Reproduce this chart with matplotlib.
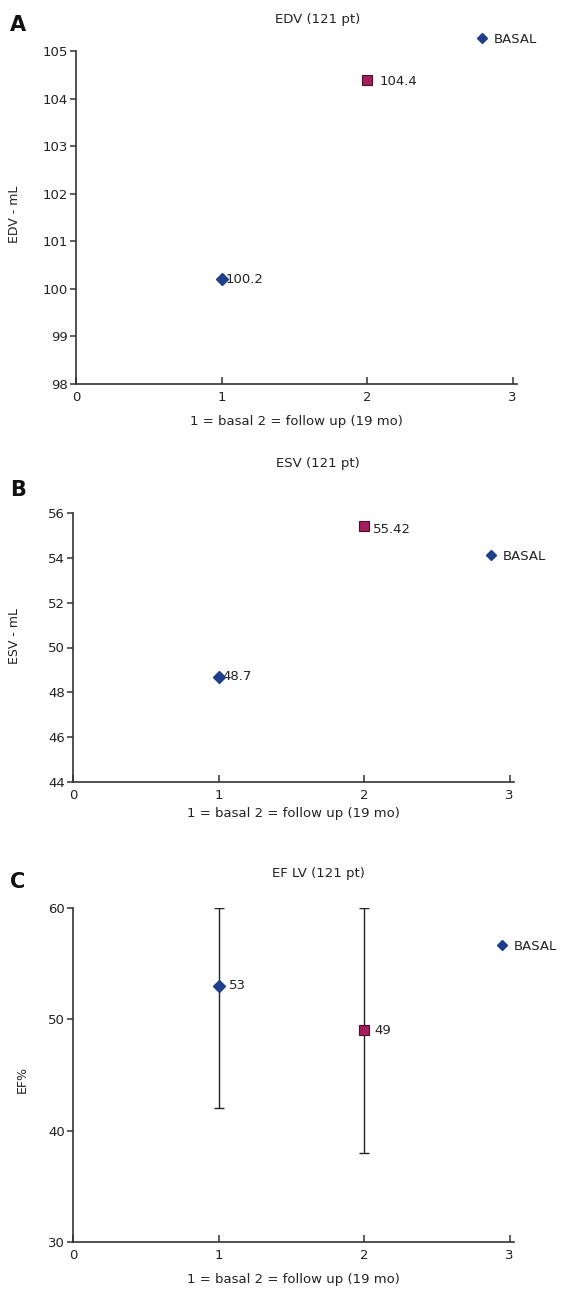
import matplotlib
matplotlib.use("Agg")
import matplotlib.pyplot as plt
from matplotlib.lines import Line2D

plt.rcParams['font.family'] = ['DejaVu Sans']

# ---- data ----
x_groups = [1, 2]
edv_values = [100.2, 104.4]
esv_values = [48.7, 55.42]
ef_values = [53, 49]
ef_err_low = [11, 11]
ef_err_high = [7, 11]
edv_labels = ["100.2", "104.4"]
esv_labels = ["48.7", "55.42"]
ef_labels = ["53", "49"]
titles = ["EDV (121 pt)", "ESV (121 pt)", "EF LV (121 pt)"]
ylabels = ["EDV - mL", "ESV - mL", "EF%"]
xlabel = "1 = basal 2 = follow up (19 mo)"
panel_letters = ["A", "B", "C"]
edv_yticks = [98, 99, 100, 101, 102, 103, 104, 105]
esv_yticks = [44, 46, 48, 50, 52, 54, 56]
ef_yticks = [30, 40, 50, 60]
x_ticks = [0, 1, 2, 3]
legend_label = "BASAL"

BLUE = "#1f3f8a"
PINK = "#a51d5a"
PINK_EDGE = "#4a0f28"
TXT = "#222222"

W, H = 563, 1291
fig = plt.figure(figsize=(W / 100, H / 100), dpi=100)


def px_axes(left, top, right, bottom):
    return fig.add_axes([left / W, 1 - bottom / H, (right - left) / W, (bottom - top) / H])


def style(ax, yticks, ylabel, leg_xy, xlabelpad):
    ax.set_xlim(0, 3.03)
    ax.set_ylim(yticks[0], yticks[-1])
    ax.set_xticks(x_ticks)
    ax.set_yticks(yticks)
    for s in ["top", "right"]:
        ax.spines[s].set_visible(False)
    for s in ["left", "bottom"]:
        ax.spines[s].set_color("#333333")
        ax.spines[s].set_linewidth(1.2)
    ax.tick_params(axis="x", direction="in", length=5, width=1.1, color="#333333",
                   labelsize=9.5, labelcolor=TXT, pad=5)
    ax.tick_params(axis="y", direction="out", length=4, width=1.1, color="#333333",
                   labelsize=9.5, labelcolor=TXT, pad=2)
    ax.set_xlabel(xlabel, fontsize=9.5, color=TXT, labelpad=xlabelpad)
    ax.set_ylabel(ylabel, fontsize=9, color=TXT)
    h = Line2D([], [], marker="D", color=BLUE, linestyle="none", markersize=5.5)
    ax.legend([h], [legend_label], loc="center left", bbox_to_anchor=leg_xy,
              frameon=False, borderpad=0, handlelength=1.0, handletextpad=0.4,
              fontsize=9.5, labelcolor=TXT)


def plot_points(ax, vals, labels, offsets):
    ax.plot([x_groups[0]], [vals[0]], linestyle="none", marker="D", color=BLUE,
            markersize=6, zorder=5)
    ax.plot([x_groups[1]], [vals[1]], linestyle="none", marker="s", color=PINK,
            markeredgecolor=PINK_EDGE, markeredgewidth=0.8, markersize=7.5, zorder=5)
    for xv, yv, lab, (dx, dy) in zip(x_groups, vals, labels, offsets):
        ax.annotate(lab, (xv, yv), xytext=(dx, dy), textcoords="offset pixels",
                    ha="left", va="center", fontsize=9.5, color=TXT)


# Panel A
axA = px_axes(76, 51, 517, 384)
plot_points(axA, edv_values, edv_labels, [(4, 0), (12, -2)])
style(axA, edv_yticks, ylabels[0], (0.890, 1.036), 8)

# Panel B
axB = px_axes(73, 513, 514, 782)
plot_points(axB, esv_values, esv_labels, [(4, 0), (9, -3)])
style(axB, esv_yticks, ylabels[1], (0.917, 0.840), 4)

# Panel C
axC = px_axes(73, 908, 514, 1242)
axC.errorbar(x_groups, ef_values, yerr=[ef_err_low, ef_err_high], fmt="none",
             ecolor="#222222", elinewidth=1.0, capsize=3.5, capthick=1.0, zorder=3)
plot_points(axC, ef_values, ef_labels, [(10, 0), (10, 0)])
style(axC, ef_yticks, ylabels[2], (0.942, 0.886), 8)

# y label positions: x in px from figure left, y as axes fraction
for ax, xpx, yfrac in [(axA, 21, 0.51), (axB, 21, 0.543), (axC, 29, 0.486)]:
    bb = ax.get_position()
    ax.yaxis.set_label_coords((xpx / W - bb.x0) / bb.width, yfrac)

# titles and panel letters
for t, ypx in zip(titles, [20, 464, 873]):
    fig.text(318 / W, 1 - ypx / H, t, ha="center", va="center", fontsize=9.5, color=TXT)
for letter, ypx in zip(panel_letters, [25, 490, 882]):
    fig.text(10 / W, 1 - ypx / H, letter, ha="left", va="center", fontsize=15,
             fontweight="bold", color="#111111")

fig.savefig("out.png", dpi=100)
